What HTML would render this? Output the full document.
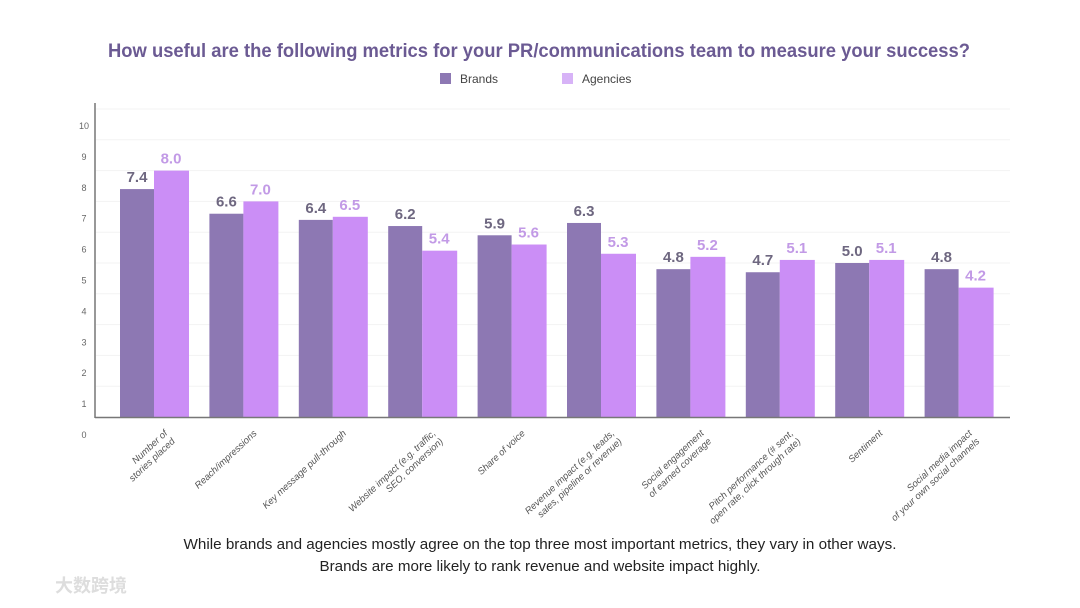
<!DOCTYPE html>
<html><head><meta charset="utf-8"><style>
body{margin:0;background:#fff;}
svg{display:block;font-family:"Liberation Sans","Noto Sans CJK SC",sans-serif;}
</style></head><body>
<svg id="chart" width="1080" height="608" viewBox="0 0 1080 608">
<text x="539" y="57" text-anchor="middle" font-size="19" font-weight="bold" fill="#6b5a93" textLength="862" lengthAdjust="spacingAndGlyphs">How useful are the following metrics for your PR/communications team to measure your success?</text>
<g>
<rect x="440" y="73" width="11" height="11" fill="#8d78b3"/>
<text x="460" y="83" font-size="12" fill="#444">Brands</text>
<rect x="562" y="73" width="11" height="11" fill="#d7b3f7"/>
<text x="582" y="83" font-size="12" fill="#444">Agencies</text>
</g>
<g id="grid"></g><g id="bars"></g><g id="labels"></g>
<line x1="95" y1="103" x2="95" y2="418" stroke="#777" stroke-width="1.5"/>
<line x1="95" y1="417.5" x2="1010" y2="417.5" stroke="#777" stroke-width="1.5"/>
<text x="540" y="549" text-anchor="middle" font-size="15" fill="#222" textLength="713" lengthAdjust="spacingAndGlyphs">While brands and agencies mostly agree on the top three most important metrics, they vary in other ways.</text>
<text x="540" y="571" text-anchor="middle" font-size="15" fill="#222" textLength="441" lengthAdjust="spacingAndGlyphs">Brands are more likely to rank revenue and website impact highly.</text>
<text x="55" y="592" font-size="18" fill="#ddd" font-weight="bold">大数跨境</text>
</svg>
<script>
const categories=[["Number of","stories placed"],["Reach/impressions"],["Key message pull-through"],["Website impact (e.g. traffic,","SEO, conversion)"],["Share of voice"],["Revenue impact (e.g. leads,","sales, pipeline or revenue)"],["Social engagement","of earned coverage"],["Pitch performance (# sent,","open rate, click through rate)"],["Sentiment"],["Social media impact","of your own social channels"]];
const brands=[7.4,6.6,6.4,6.2,5.9,6.3,4.8,4.7,5.0,4.8];
const agencies=[8.0,7.0,6.5,5.4,5.6,5.3,5.2,5.1,5.1,4.2];
const yTicks=[0,1,2,3,4,5,6,7,8,9,10];
const NS="http://www.w3.org/2000/svg";
const base=417,unit=30.8;
function y(v){return base-v*unit;}
function tickY(v){return 435-v*30.9;}
function gx(i){return 120+i*89.4;}
const bw=34;
function mk(tag,attrs,parent){const e=document.createElementNS(NS,tag);for(const k in attrs)e.setAttribute(k,attrs[k]);parent.appendChild(e);return e;}
const grid=document.getElementById('grid'),bars=document.getElementById('bars'),labels=document.getElementById('labels');
yTicks.forEach(t=>{
 if(t>0){const l=mk('line',{x1:96,x2:1010,y1:y(t),y2:y(t),stroke:'#f3f3f3','stroke-width':1},grid);
 
 }
 const tx=mk('text',{x:84,y:tickY(t)+3,'text-anchor':'middle','font-size':9,fill:'#666'},labels);
 tx.textContent=t;
 
 
});
categories.forEach((c,i)=>{
 const x0=gx(i);
 const b=mk('rect',{x:x0,y:y(brands[i]),width:bw,height:brands[i]*unit,fill:'#8d78b3'},bars);
 
 
 const a=mk('rect',{x:x0+bw,y:y(agencies[i]),width:bw+1,height:agencies[i]*unit,fill:'#cb8ef6'},bars);
 
 
 const bl=mk('text',{x:x0+bw/2,y:y(brands[i])-7,'text-anchor':'middle','font-size':15,'font-weight':'bold',fill:'#6e6780'},labels);
 bl.textContent=brands[i].toFixed(1);
 
 
 const al=mk('text',{x:x0+bw*1.5,y:y(agencies[i])-7,'text-anchor':'middle','font-size':15,'font-weight':'bold',fill:'#c29ae6'},labels);
 al.textContent=agencies[i].toFixed(1);
 
 
 const cx=x0+bw+14, cy=434;
 const t=mk('text',{transform:`translate(${cx},${cy}) rotate(-43)`,'text-anchor':'end','font-size':9.5,fill:'#555','font-style':'italic'},labels);
 c.forEach((line,j)=>{const s=mk('tspan',{x:0,dy:j?11:0},t);s.textContent=line;});
 
 
});
</script>
</body></html>
